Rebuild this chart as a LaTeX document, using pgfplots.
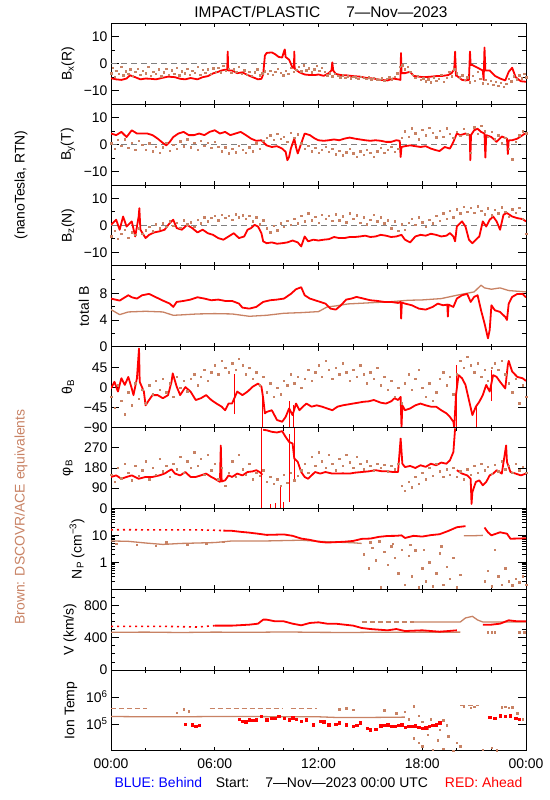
\documentclass[border=0pt]{standalone}
\usepackage{fontspec}
\setmainfont{Liberation Sans}
\usepackage{pgfplots}
\pgfplotsset{compat=1.18}
\definecolor{brn}{RGB}{200,130,100}
\definecolor{zgray}{RGB}{128,128,128}
\pgfplotsset{
  panel/.style={scale only axis, width=415bp, height=80.85bp, anchor=south west,
    xmin=0, xmax=24, xtick={0,6,12,18,24}, minor xtick={0,2,...,24}, xticklabels={},
    tick align=inside, tick pos=both, axis line style={line width=0.9bp},
    every tick/.style={black, line width=0.9bp},
    major tick length=8bp, minor tick length=4bp,
    xtick style={/pgfplots/major tick length=4bp, /pgfplots/minor tick length=3bp},
    tick label style={font=\fontsize{14}{14}\selectfont},
    xticklabel style={yshift=-4bp},
    every axis y label/.style={at={(axis description cs:0,0.5)}, rotate=90, anchor=center,
      font=\fontsize{14}{14}\selectfont},
    unbounded coords=jump, clip=true},
  rl/.style={red, line width=1.8bp, line join=round, no markers},
  rd/.style={red, line width=1.6bp, dash pattern=on 2bp off 4bp, no markers},
  rs/.style={red, line width=1bp, no markers},
  bd/.style={brn, only marks, mark=square*, mark size=0.7bp, mark options={draw=none, fill=brn}},
  bl/.style={brn, line width=1.3bp, line join=round, no markers},
  bdash/.style={brn, line width=1.3bp, dash pattern=on 5bp off 3bp, no markers},
  zl/.style={zgray, line width=0.9bp, dash pattern=on 6bp off 4bp, no markers},
}
\begin{document}
\begin{tikzpicture}
\path[use as bounding box] (0bp,0bp) rectangle (550bp,800bp);
\node[font=\fontsize{15.5}{15.5}\selectfont] at (321bp,788bp) {IMPACT/PLASTIC\hspace{26bp}7—Nov—2023};
\node[rotate=90, font=\fontsize{14}{14}\selectfont] at (21bp,615bp) {(nanoTesla, RTN)};
\node[rotate=90, font=\fontsize{14}{14}\selectfont, text=brn] at (21bp,283bp) {Brown: DSCOVR/ACE equivalents};
\node[anchor=west, text=blue, font=\fontsize{14}{14}\selectfont] at (111bp,17bp) {BLUE: Behind};
\node[font=\fontsize{14}{14}\selectfont] at (322bp,17bp) {Start:\hspace{16bp}7—Nov—2023 00:00 UTC};
\node[anchor=east, text=red, font=\fontsize{14}{14}\selectfont] at (526bp,17bp) {RED: Ahead};

% ---------- Bx ----------
\begin{axis}[panel, at={(111bp,695.85bp)}, ymin=-15, ymax=15, ytick={-10,0,10}, minor ytick={-5,5},
  yticklabels={−10,0,10}, ylabel={B\textsubscript{x}(R)}, ylabel style={yshift=43bp}]
\addplot[zl] coordinates {(0,0)(24,0)};
\addplot[bd] table {
0.0 -3.5
0.1 -1.5
0.2 -4.8
0.3 -2.5
0.45 -3.8
0.6 -1.2
0.7 -4.2
0.85 -2.8
1.0 -3.6
1.1 -2.0
1.25 -4.5
1.4 -3.0
1.55 -1.8
1.7 -4.0
1.85 -2.6
2.0 -3.5
2.15 -1.0
2.3 -4.4
2.45 -2.9
2.6 -3.8
2.75 -2.0
2.9 -4.6
3.05 -3.2
3.2 -1.8
3.35 -4.0
3.5 -2.4
3.65 -3.6
3.8 -1.5
3.95 -4.3
4.1 -2.8
4.25 -3.5
4.4 -1.9
4.55 -4.1
4.7 -2.6
4.85 -3.3
5.0 -1.2
5.15 -4.0
5.3 -2.2
5.45 -3.4
5.6 -2.0
5.75 -3.8
5.9 -1.6
6.05 -2.9
6.2 -1.4
6.35 -3.2
6.5 -0.8
6.65 -2.6
6.8 -1.8
6.95 -3.4
7.1 -2.0
7.25 -3.0
7.4 -1.2
7.55 -3.6
7.7 -2.4
7.85 -4.0
8.0 -3.0
8.15 -4.5
8.3 -3.2
8.45 -2.0
8.6 -4.2
8.75 -3.5
8.9 -2.8
9.05 -3.8
9.2 -2.5
9.35 -4.0
9.5 -3.0
9.65 -1.8
9.8 -3.4
9.95 -4.2
10.1 -2.6
10.25 -3.6
10.4 -1.5
10.55 -3.0
10.7 -2.2
10.85 -1.0
11.0 -2.8
11.15 -0.5
11.3 -2.4
11.45 -1.6
11.6 -3.2
11.75 -2.0
11.9 -0.8
12.05 -2.6
12.2 -1.5
12.35 -3.0
12.5 -4.2
12.65 -3.5
12.8 -4.6
12.95 -3.8
13.1 -4.4
13.25 -5.0
13.4 -4.2
13.55 -5.2
13.7 -4.6
13.85 -5.4
14.0 -4.8
14.15 -5.0
14.3 -5.5
14.45 -4.8
14.6 -5.2
14.75 -5.6
14.9 -5.0
15.05 -5.8
15.2 -5.2
15.35 -5.8
15.5 -6.0
15.65 -5.4
15.8 -6.2
15.95 -5.6
16.1 -5.0
16.25 -5.8
16.4 -4.8
16.55 -3.5
16.7 -1.0
16.85 -0.5
17.0 -2.0
17.15 -1.2
17.3 -3.0
17.45 -4.0
17.6 -5.2
17.75 -4.5
17.9 -6.0
18.05 -5.4
18.2 -6.5
18.35 -5.8
18.5 -6.8
18.65 -5.0
18.8 -6.2
18.95 -5.5
19.1 -4.0
19.25 -6.6
19.4 -5.2
19.55 -3.0
19.7 -4.6
19.85 -2.0
20.0 -3.5
20.15 -5.0
20.3 -4.2
20.45 -6.0
20.6 -5.0
20.75 -6.8
20.9 -4.5
21.05 -6.2
21.2 -3.0
21.35 -5.5
21.5 -7.2
21.65 -6.0
21.8 -7.5
21.95 -6.4
22.1 -7.8
22.25 -6.6
22.4 -8.2
22.55 -7.0
22.7 -8.6
22.85 -7.4
23.0 -5.5
23.15 -6.5
23.3 -4.6
23.45 -5.8
23.6 -4.2
23.75 -5.4
23.9 -3.8
24.0 -5.0
};
\addplot[rl] table {
0 -5.4
0.3 -5.8
0.6 -6
0.9 -5.5
1.1 -4.3
1.4 -5
1.7 -5.8
2.0 -5.5
2.3 -5.6
2.6 -5.8
3.0 -5.2
3.3 -4.8
3.7 -5
4.0 -5.6
4.3 -5.8
4.6 -5.3
5.0 -5.8
5.3 -5
5.6 -4.6
5.9 -3.6
6.2 -3
6.4 -2.5
6.6 -2.2
6.72 -2.4
6.75 4.5
6.78 -2.5
7.0 -2.5
7.3 -3.5
7.6 -3.2
7.9 -4.2
8.2 -5
8.5 -5.8
8.7 -5.6
8.8 -4
8.9 3
9.0 4
9.3 4.2
9.5 3.5
9.7 2.5
9.9 2.3
10.0 4.5
10.05 5.3
10.1 2.5
10.3 1.5
10.5 -1.5
10.58 -1.5
10.6 4.5
10.62 -1.8
10.7 -2.3
10.9 -3.2
11.2 -4
11.5 -4.2
11.8 -4.2
12.0 -4
12.3 -4.5
12.6 -3.5
12.75 -2.5
12.8 0.5
12.85 -2.5
13.0 -3.8
13.3 -4.2
13.6 -4.3
14.0 -4.6
14.4 -4.8
14.8 -5.3
15.2 -5.5
15.6 -6
16.0 -6.2
16.3 -5.5
16.6 -5.8
16.74 -6
16.77 4
16.8 -3.5
17.0 -3.5
17.3 -3
17.5 -4.5
17.8 -4.8
18.1 -5
18.5 -4.8
18.8 -4.6
19.2 -4.5
19.5 -4.2
19.7 -3.5
19.85 -2
19.9 4.5
19.95 -4.5
20.0 -4.5
20.3 -6
20.5 -6.2
20.7 -6
20.76 4.5
20.8 -0.5
20.9 -0.5
21.2 -1.5
21.5 -2.5
21.55 -6
21.6 6
21.65 -2.5
21.9 -2.5
22.2 -4.5
22.5 -5.5
22.8 -6.2
23.0 -3
23.2 -1.5
23.4 -5
23.7 -6.5
24.0 -6.7
};
\end{axis}

% ---------- By ----------
\begin{axis}[panel, at={(111bp,615.0bp)}, ymin=-15, ymax=15, ytick={-10,0,10}, minor ytick={-5,5},
  yticklabels={−10,0,10}, ylabel={B\textsubscript{y}(T)}, ylabel style={yshift=43bp}]
\addplot[zl] coordinates {(0,0)(24,0)};
\addplot[bd] table {
0.0 0.5
0.2 -1.5
0.4 1.8
0.6 -0.5
0.8 2.0
1.0 -1.2
1.2 0.8
1.4 -2.0
1.6 1.5
1.8 0.0
2.0 -1.8
2.2 0.5
2.4 -2.5
2.6 -0.8
2.8 -3.0
3.0 -1.0
3.2 0.8
3.4 -2.2
3.6 0.0
3.8 -1.5
4.0 1.2
4.2 -0.6
4.4 2.0
4.6 -1.0
4.8 0.6
5.0 -2.0
5.2 1.5
5.4 -0.5
5.6 0.8
5.8 -1.2
6.0 1.0
6.2 -0.8
6.4 -2.5
6.6 -1.0
6.8 -3.2
7.0 -1.5
7.2 -2.8
7.4 -0.5
7.6 -2.0
7.8 -3.0
8.0 -1.0
8.2 -2.4
8.4 0.5
8.6 -1.5
8.8 1.5
9.0 2.5
9.2 3.5
9.4 1.8
9.6 4.0
9.8 2.2
10.0 3.0
10.2 1.0
10.4 4.5
10.6 2.5
10.8 3.8
11.0 0.5
11.2 -1.5
11.4 -0.5
11.6 -2.5
11.8 -1.2
12.0 -3.0
12.2 -1.8
12.4 -0.8
12.6 -2.6
12.8 -1.5
13.0 -3.5
13.2 -2.2
13.4 -4.0
13.6 -2.8
13.8 -1.5
14.0 -3.2
14.2 -4.5
14.4 -2.5
14.6 -3.8
14.8 -1.8
15.0 -3.0
15.2 -4.6
15.4 -2.4
15.6 -1.2
15.8 -3.0
16.0 -2.0
16.2 -0.8
16.4 -2.6
16.6 -1.5
16.8 2.5
17.0 5.0
17.2 3.0
17.4 6.0
17.6 4.2
17.8 2.0
18.0 5.5
18.2 3.5
18.4 6.2
18.6 4.5
18.8 2.8
19.0 5.2
19.2 3.0
19.4 6.0
19.6 4.0
19.8 2.5
20.0 4.8
20.2 3.2
20.4 5.8
20.6 3.8
20.8 -3.0
21.0 6.5
21.2 4.0
21.4 7.0
21.6 5.0
21.8 3.0
22.0 4.8
22.2 2.0
22.4 3.5
22.6 0.5
22.8 2.5
23.0 -1.5
23.2 -5.5
23.4 1.0
23.6 3.5
23.8 5.0
24.0 4.2
};
\addplot[rl] table {
0 4.1
0.3 3.5
0.6 4.7
0.9 2.8
1.2 5.3
1.5 4.1
1.8 4.1
2.1 4.1
2.4 3.5
2.7 2.2
3.0 0.6
3.2 -0.3
3.4 1.0
3.6 2.8
3.9 4.1
4.2 4.7
4.5 3.5
4.8 3.5
5.1 4.1
5.4 3.5
5.7 4.7
6.0 5.3
6.3 4.1
6.6 4.7
6.9 3.5
7.2 4.1
7.5 4.7
7.8 3.5
8.1 2.2
8.4 1.4
8.7 1.6
9.0 -0.3
9.3 -0.9
9.6 -0.6
9.9 -1.5
10.1 -2.7
10.2 -5.8
10.3 -4.6
10.4 -1.5
10.6 2.2
10.7 -1.0
10.8 -3.3
11.0 0.4
11.2 4.1
11.5 3.5
11.8 2.2
12.0 1.6
12.3 1.4
12.6 1.6
12.9 1.9
13.2 1.6
13.5 2.2
13.8 2.6
14.1 2.2
14.4 1.9
14.7 1.6
15.0 1.4
15.3 1.6
15.6 1.4
15.9 1.0
16.2 1.0
16.5 1.6
16.7 1.4
16.75 -4.6
16.8 -0.9
17.0 -0.6
17.3 -0.3
17.6 -0.6
17.9 -0.9
18.2 -0.6
18.5 -1.5
18.8 -2.1
19.0 -2.4
19.3 -0.9
19.6 -1.5
19.8 1.0
20.0 4.1
20.2 3.5
20.5 4.1
20.75 3.5
20.78 -5.8
20.82 3.5
21.0 5.3
21.2 5.9
21.4 4.7
21.6 4.1
21.65 -4.8
21.7 3.5
22.0 2.8
22.3 1.0
22.6 3.0
22.9 2.2
22.95 -3.5
23.0 1.6
23.2 1.6
23.5 2.2
23.8 3.5
24.0 4.3
};
\end{axis}

% ---------- Bz ----------
\begin{axis}[panel, at={(111bp,534.15bp)}, ymin=-15, ymax=15, ytick={-10,0,10}, minor ytick={-5,5},
  yticklabels={−10,0,10}, ylabel={B\textsubscript{z}(N)}, ylabel style={yshift=43bp}]
\addplot[zl] coordinates {(0,0)(24,0)};
\addplot[bd] table {
0.0 -4.0
0.2 -2.0
0.4 -5.0
0.6 -3.0
0.8 -1.5
1.0 -4.5
1.2 -2.5
1.4 -3.5
1.6 -1.0
1.8 -3.0
2.0 -1.8
2.2 -0.5
2.4 -2.2
2.6 0.5
2.8 -1.0
3.0 0.8
3.2 -0.5
3.4 1.5
3.6 0.0
3.8 1.0
4.0 -0.8
4.2 2.0
4.4 0.5
4.6 1.2
4.8 -0.5
5.0 2.2
5.2 0.8
5.4 3.0
5.6 1.5
5.8 2.8
6.0 3.5
6.2 2.0
6.4 4.0
6.6 2.8
6.8 3.6
7.0 2.2
7.2 4.2
7.4 3.0
7.6 3.8
7.8 2.5
8.0 3.5
8.2 1.5
8.4 3.0
8.6 0.5
8.8 2.0
9.0 -1.0
9.2 -2.5
9.4 0.0
9.6 -1.8
9.8 0.8
10.0 -0.5
10.2 1.8
10.4 0.2
10.6 2.5
10.8 0.8
11.0 3.5
11.2 1.5
11.4 4.5
11.6 2.0
11.8 3.2
12.0 1.0
12.2 4.0
12.4 2.5
12.6 3.6
12.8 1.8
13.0 4.2
13.2 2.0
13.4 3.4
13.6 1.2
13.8 4.5
14.0 2.4
14.2 3.8
14.4 1.0
14.6 3.0
14.8 0.5
15.0 2.2
15.2 4.0
15.4 1.5
15.6 3.0
15.8 0.8
16.0 2.0
16.2 -1.0
16.4 1.5
16.6 -2.0
16.8 0.5
17.0 -1.5
17.2 1.0
17.4 2.5
17.6 0.2
17.8 3.0
18.0 1.2
18.2 -0.5
18.4 2.2
18.6 0.8
18.8 3.5
19.0 1.8
19.2 4.5
19.4 2.5
19.6 5.5
19.8 3.0
20.0 6.0
20.2 4.5
20.4 7.0
20.6 5.2
20.8 6.5
21.0 4.8
21.2 7.2
21.4 5.5
21.6 4.2
21.8 6.4
22.0 3.8
22.2 5.8
22.4 4.5
22.6 6.8
22.8 5.0
23.0 3.2
23.2 6.0
23.4 4.8
23.6 6.5
23.8 2.5
24.0 -3.0
};
\addplot[rl] table {
0 0.2
0.3 2.1
0.5 -1.6
0.7 3.3
0.9 -0.4
1.2 1.5
1.4 -4.1
1.6 3.3
1.64 6.4
1.7 -1.6
2.0 -4.7
2.2 -3.5
2.5 -2.6
2.8 -2.2
3.1 -1.6
3.4 0.9
3.6 2.1
3.8 -1.0
4.1 -1.6
4.4 0.2
4.7 -1.0
5.0 -2.6
5.3 -1.6
5.6 -2.9
5.9 -3.5
6.2 -4.7
6.5 -5.3
6.8 -4.1
7.1 -2.9
7.4 -4.7
7.7 -4.1
7.9 -1.6
8.1 -1.0
8.3 0.2
8.5 -0.4
8.7 -2.9
8.8 -5.9
9.0 -6.6
9.3 -6.3
9.6 -6.8
9.9 -6.6
10.2 -6.3
10.5 -5.6
10.8 -6.3
11.0 -7.8
11.2 -4.1
11.4 -5.9
11.7 -5.3
12.0 -5.6
12.3 -5.3
12.6 -5.1
12.9 -4.3
13.2 -4.7
13.5 -4.7
13.8 -4.3
14.1 -4.3
14.4 -4.1
14.7 -3.8
15.0 -4.3
15.3 -4.1
15.6 -3.5
15.9 -3.8
16.2 -4.3
16.5 -4.1
16.8 -3.5
17.0 -5.3
17.3 -6.3
17.6 -4.1
17.9 -3.5
18.2 -3.8
18.5 -3.1
18.8 -3.5
19.1 -4.1
19.4 -3.8
19.6 -2.85
19.8 -4.1
19.9 -5.9
20.0 -0.4
20.3 1.5
20.5 -0.4
20.7 -5.3
20.9 -6.6
21.1 -5.3
21.3 -4.1
21.5 1.5
21.7 -0.4
21.9 2.1
22.1 3.3
22.3 1.5
22.5 -1.6
22.7 4.0
22.9 4.6
23.2 3.3
23.5 2.7
23.8 2.35
24.0 1.5
};
\end{axis}

% ---------- total B ----------
\begin{axis}[panel, at={(111bp,453.3bp)}, ymin=0, ymax=12.1, ytick={0,4,8}, minor ytick={2,6,10},
  yticklabels={0,4,8}, ylabel={total B}, ylabel style={yshift=27bp}]
\addplot[bl] table {
0 5.55
0.5 4.8
1 5.2
2 5.3
3 5.2
3.6 4.7
4 4.75
5 4.9
6 4.95
7 4.9
8 4.55
9 4.7
10 5.0
11 5.1
12 5.25
12.5 5.95
13 6.1
13.7 6.4
15.2 6.6
16 6.7
17.2 6.95
18 7.0
19.1 7.2
20 7.7
21 8.2
21.4 9.2
21.6 8.8
22 8.6
22.5 8.8
23 8.4
23.5 8.3
24 8.2
};
\addplot[rl] table {
0 7.2
0.5 6.9
1.0 7.7
1.2 7.4
1.5 7.2
1.8 7.7
2.2 7.9
2.6 7.4
3.0 6.9
3.4 6.45
3.6 5.95
3.8 6.7
4.2 6.85
4.6 7.05
5.0 7.4
5.4 7.2
5.8 6.95
6.2 7.05
6.6 6.85
7.0 6.85
7.4 6.45
7.6 5.85
8.0 5.7
8.4 5.95
8.8 6.7
9.2 6.95
9.6 7.05
10.0 7.2
10.4 7.9
10.7 8.6
11.0 8.9
11.2 7.7
11.5 7.2
11.8 6.95
12.1 6.7
12.4 6.45
12.7 5.7
13.0 5.55
13.3 6.2
13.6 7.05
13.9 7.2
14.2 7.45
14.6 7.2
15.0 6.95
15.4 6.85
15.8 6.7
16.2 6.7
16.6 6.55
16.75 6.7
16.78 4.2
16.82 6.6
17.0 6.45
17.4 6.2
17.8 5.7
18.2 5.55
18.6 5.95
18.9 6.45
19.2 6.2
19.45 6.3
19.48 4.5
19.52 6.3
19.8 5.95
20.0 7.2
20.3 7.7
20.6 7.9
20.8 6.7
21.0 7.45
21.2 7.7
21.4 5.45
21.6 3.5
21.8 1.25
21.9 2.5
22.0 6.2
22.2 5.45
22.5 5.2
22.8 4.45
22.9 4.0
23.0 6.45
23.2 7.45
23.5 7.9
23.8 7.9
24.0 7.4
};
\end{axis}

% ---------- theta ----------
\begin{axis}[panel, at={(111bp,372.45bp)}, ymin=-90, ymax=92, ytick={-90,-45,0,45}, minor ytick={},
  yticklabels={−90,−45,0,45}, ylabel={θ\textsubscript{B}}, ylabel style={yshift=43bp}]
\addplot[bd] table {
0.0 -20
0.2 -45
0.4 5
0.6 -30
0.8 -60
1.0 -10
1.2 -40
1.4 10
1.6 -25
1.8 -5
2.0 -35
2.2 5
2.4 -15
2.6 15
2.8 -5
3.0 20
3.2 -10
3.4 10
3.6 -20
3.8 25
4.0 0
4.2 15
4.4 -8
4.6 20
4.8 30
5.0 5
5.2 25
5.4 40
5.6 15
5.8 35
6.0 50
6.2 30
6.4 60
6.6 45
6.8 35
7.0 55
7.2 40
7.4 65
7.6 50
7.8 30
8.0 45
8.2 20
8.4 35
8.6 5
8.8 25
9.0 -10
9.2 10
9.4 -20
9.6 0
9.8 -15
10.0 15
10.2 5
10.4 30
10.6 10
10.8 25
11.0 0
11.2 20
11.4 40
11.6 15
11.8 35
12.0 50
12.2 25
12.4 60
12.6 40
12.8 20
13.0 45
13.2 30
13.4 55
13.6 35
13.8 15
14.0 40
14.2 25
14.4 50
14.6 30
14.8 10
15.0 35
15.2 20
15.4 45
15.6 5
15.8 25
16.0 -5
16.2 15
16.4 -20
16.6 0
16.8 -35
17.0 10
17.2 30
17.4 -5
17.6 20
17.8 40
18.0 0
18.2 -20
18.4 10
18.6 -30
18.8 -10
19.0 20
19.2 35
19.4 5
19.6 25
19.8 -15
20.0 30
20.2 60
20.4 45
20.6 70
20.8 50
21.0 35
21.2 55
21.4 25
21.6 40
21.8 15
22.0 45
22.2 55
22.4 40
22.6 60
22.8 30
23.0 10
23.2 -10
23.4 20
23.6 -35
23.8 5
24.0 -20
};
\addplot[rl] table {
0 -2
0.2 13
0.4 -9
0.6 21
0.8 6
1.0 24
1.2 -2
1.3 -17
1.5 21
1.62 88
1.66 13
1.9 -9
2.0 -40
2.2 -28
2.4 -17
2.7 -17
3.0 -24
3.3 -17
3.5 13
3.57 32
3.8 2
4.0 -17
4.3 1
4.6 -9
4.9 -28
5.2 -24
5.5 -17
5.8 -28
6.1 -36
6.4 -43
6.6 -51
6.8 -36
7.0 -36
7.3 -9
7.6 -17
7.9 -9
8.2 2
8.5 9
8.7 2
8.8 -24
8.9 -58
9.0 -55
9.3 -51
9.6 -73
9.9 -77
10.1 -66
10.3 -47
10.5 -62
10.7 -36
10.9 -51
11.1 -43
11.3 -36
11.6 -43
11.9 -40
12.2 -43
12.5 -47
12.8 -51
13.1 -43
13.4 -40
13.7 -38
14.0 -36
14.3 -34
14.6 -32
14.9 -31
15.2 -28
15.6 -34
15.9 -36
16.2 -31
16.4 -24
16.6 -28
16.75 -21
16.8 -90
16.85 -40
17.0 -51
17.3 -47
17.6 -40
17.9 -36
18.2 -40
18.5 -43
18.8 -43
19.1 -51
19.4 -58
19.6 -66
19.8 -77
19.85 -90
19.95 -17
20.1 28
20.3 21
20.5 6
20.7 -28
20.9 -62
21.1 -43
21.3 -32
21.5 -17
21.7 6
21.9 -9
22.1 28
22.3 24
22.5 13
22.8 -2
22.95 51
23.0 60
23.2 36
23.5 24
23.8 21
24.0 15
};
\addplot[rs] table {
7.15 -60
7.15 30
nan nan
8.75 -90
8.75 -20
nan nan
10.35 -90
10.35 -30
nan nan
10.55 -90
10.55 -40
nan nan
20.0 -90
20.0 50
nan nan
21.15 -90
21.15 -40
nan nan
22.0 -30
22.0 40
};
\end{axis}

% ---------- phi ----------
\begin{axis}[panel, at={(111bp,291.6bp)}, ymin=0, ymax=360, ytick={0,90,180,270}, minor ytick={},
  yticklabels={0,90,180,270}, ylabel={φ\textsubscript{B}}, ylabel style={yshift=43bp}]
\addplot[bd] table {
0.0 150
0.2 120
0.4 180
0.6 135
0.8 200
1.0 160
1.2 125
1.4 190
1.6 145
1.8 170
2.0 210
2.2 130
2.4 180
2.6 150
2.8 220
3.0 165
3.2 190
3.4 140
3.6 200
3.8 175
4.0 230
4.2 160
4.4 210
4.6 180
4.8 250
5.0 190
5.2 220
5.4 150
5.6 240
5.8 170
6.0 200
6.2 130
6.4 180
6.6 100
6.8 160
7.0 210
7.2 140
7.4 240
7.6 175
7.8 150
8.0 200
8.2 130
8.4 160
8.6 145
8.8 170
9.0 120
9.2 140
9.4 110
9.6 130
9.8 100
10.0 150
10.2 115
10.4 160
10.6 125
10.8 145
11.0 170
11.2 200
11.4 160
11.6 230
11.8 190
12.0 250
12.2 210
12.4 180
12.6 240
12.8 200
13.0 170
13.2 220
13.4 190
13.6 240
13.8 205
14.0 180
14.2 230
14.4 200
14.6 175
14.8 210
15.0 190
15.2 170
15.4 200
15.6 180
15.8 195
16.0 165
16.2 190
16.4 175
16.6 200
16.8 100
17.0 80
17.2 120
17.4 95
17.6 140
17.8 110
18.0 160
18.2 130
18.4 180
18.6 145
18.8 200
19.0 165
19.2 140
19.4 175
19.6 150
19.8 180
20.0 140
20.2 165
20.4 130
20.6 175
20.8 150
21.0 190
21.2 160
21.4 200
21.6 170
21.8 185
22.0 155
22.2 195
22.4 165
22.6 210
22.8 175
23.0 190
23.2 160
23.4 200
23.6 170
23.8 185
24.0 160
};
\addplot[rl] table {
0 140
0.3 147
0.6 132
0.9 140
1.2 147
1.6 132
2.0 140
2.4 140
2.8 147
3.1 155
3.3 165
3.5 174
3.7 155
4.0 147
4.3 162
4.6 140
4.9 140
5.2 147
5.5 155
5.8 140
6.0 132
6.3 118
6.35 280
6.4 120
6.6 125
6.8 147
7.0 140
7.3 155
7.6 147
7.9 162
8.2 165
8.4 170
8.6 162
8.75 150
nan nan
8.8 350
9.0 348
9.3 341
9.6 338
9.9 344
10.1 318
10.3 296
10.5 289
10.6 222
10.8 207
11.0 162
11.2 140
11.4 132
11.6 147
11.8 162
12.1 155
12.4 162
12.8 155
13.1 155
13.4 156
13.8 155
14.1 159
14.5 162
14.9 165
15.3 170
15.7 165
16.0 165
16.3 162
16.6 162
16.75 311
16.85 199
17.0 184
17.3 189
17.6 180
17.9 192
18.2 185
18.5 199
18.8 192
19.1 204
19.4 199
19.6 214
19.8 251
19.9 356
nan nan
20.0 170
20.3 155
20.6 147
20.8 132
20.85 20
20.9 73
21.1 118
21.3 125
21.5 103
21.7 118
21.9 147
22.1 155
22.3 170
22.6 155
22.85 280
22.9 207
23.1 162
23.4 155
23.7 147
24.0 155
};
\addplot[rs] table {
8.72 0
8.72 360
nan nan
9.8 0
9.8 100
nan nan
10.3 30
10.3 330
nan nan
10.6 130
10.6 360
nan nan
9.2 0
9.2 20
nan nan
9.5 0
9.5 25
nan nan
10.0 0
10.0 30
};
\end{axis}

% ---------- Np ----------
\begin{axis}[panel, at={(111bp,210.75bp)}, ymode=log, ymin=0.1, ymax=100, ytick={0.1,1,10,100},
  yticklabels={,1,10,}, minor ytick={0.2,0.3,0.4,0.5,0.6,0.7,0.8,0.9,2,3,4,5,6,7,8,9,20,30,40,50,60,70,80,90},
  ylabel={N\textsubscript{P} (cm\textsuperscript{−3})}, ylabel style={yshift=34bp}]
\addplot[bl] table {
0 6.2
1 6.0
2 5.2
3 4.6
4 5.0
5 5.2
6 5.4
7 6.2
8 6.2
9 6.2
10 6.4
11 6.6
12 6.0
13 5.6
14 5.3
14.5 5.0
};
\addplot[bl] table {
20.4 9.6
20.8 9.6
21.2 9.8
21.5 10
};
\addplot[bd] table {
0.3 5.0
1.5 4.6
2.6 4.2
3.2 5.6
4.4 4.4
5.5 4.8
6.5 5.8
14.6 2.0
14.9 0.6
15.1 3.5
15.3 1.2
15.6 0.12
15.8 2.5
16.0 0.8
16.2 4.0
16.4 1.5
16.6 0.4
16.8 3.0
17.0 0.15
17.2 1.8
17.4 0.3
17.6 2.8
17.8 0.12
18.0 0.6
18.2 0.2
18.4 1.0
18.6 0.13
18.8 0.4
19.0 2.2
19.2 0.15
19.4 0.7
19.6 0.25
19.8 1.5
20.0 0.12
20.2 0.35
21.6 0.2
21.8 0.5
22.0 0.13
22.2 3.0
22.4 0.3
22.6 0.15
22.8 0.6
23.0 0.2
23.2 0.14
23.4 0.25
23.6 0.18
23.8 0.3
24.0 0.15
15.0 5.5
15.5 6.0
16.3 5.0
17.3 4.5
18.1 3.0
19.1 4.0
};
\addplot[rd] table {
0 16
1 16.2
2 16
3 16
4 16
5 16
6 15.5
6.5 15
};
\addplot[rl] table {
6.5 15
7 14.7
7.5 13.5
8 12.6
8.5 11.5
9 10.4
9.5 10.6
10 10.8
10.5 9.6
11 7.6
11.5 6.8
12 5.8
12.5 5.4
13 5.6
13.5 5.8
14 6.2
14.5 7.4
15 7.6
15.5 8.8
16 9.5
16.5 9.6
16.8 10
17 8.0
17.5 9.6
18 9.0
18.5 10.2
19 11
19.5 14.5
20 20
20.5 22
nan nan
21.6 19.5
21.8 13
22 10
22.5 13
22.9 11.5
23.1 7.5
23.5 7.6
24 7.8
};
\end{axis}

% ---------- V ----------
\begin{axis}[panel, at={(111bp,129.9bp)}, ymin=0, ymax=1000, ytick={0,400,800},
  minor ytick={100,200,300,500,600,700,900}, yticklabels={0,400,800}, ylabel={V (km/s)},
  ylabel style={yshift=41bp}]
\addplot[bl] table {
0 467
2 470
4 465
6 470
8 467
10 472
12 467
14 465
15 468
17 467
18 470
19 467
20.2 470
};
\addplot[bdash] table {
14.5 595
17.5 595
};
\addplot[bl] table {
17.5 595
20.2 595
20.5 645
20.9 665
21.2 620
21.5 595
24 595
};
\addplot[bd] table {
21.8 467
22.0 470
22.2 467
23.6 467
23.9 470
};
\addplot[rd] table {
0 541
3 541
5 533
6 550
};
\addplot[rl] table {
6 550
7 550
8 562
8.5 574
8.8 624
9 624
9.5 603
10 603
10.5 574
11 554
11.5 583
12 591
12.5 574
13 574
13.5 562
14 550
14.5 521
15 508
15.5 500
16 492
16.5 508
17 483
18 492
19 475
19.5 483
20 492
nan nan
21.5 562
22 562
22.5 574
23 616
23.5 603
24 603
};
\end{axis}

% ---------- Ion Temp ----------
\begin{axis}[panel, at={(111bp,49.05bp)}, ymode=log, ymin=1e4, ymax=1e7, ytick={1e4,1e5,1e6,1e7},
  yticklabels={,10\textsuperscript{5},10\textsuperscript{6},}, minor ytick={1e4},
  ylabel={Ion Temp}, ylabel style={yshift=40bp},
  xticklabels={00:00,06:00,12:00,18:00,00:00}]
\addplot[bl] table {
0 1.9e5
2 1.85e5
4 1.85e5
6 1.9e5
8 1.9e5
10 1.85e5
12 1.85e5
13 1.75e5
15 1.75e5
17 1.8e5
};
\addplot[bdash] table {
0 3.8e5
2.1 3.8e5
};
\addplot[bdash] table {
5.7 3.8e5
9.9 3.8e5
};
\addplot[bdash] table {
10.4 3.8e5
11.9 3.8e5
};
\addplot[bdash] table {
20.2 4.9e5
21.3 4.9e5
};
\addplot[bd] table {
3.8 2.6e5
4.2 3.6e5
4.5 3.0e5
13.2 3.5e5
13.6 3.8e5
14.0 3.4e5
15.8 3.2e5
16.5 2.5e5
17.0 2.8e5
17.2 1.5e5
17.5 4.5e5
17.8 2.0e5
18.0 1.2e5
18.3 7e4
18.5 1.5e5
18.8 1.0e5
19.0 6e4
19.2 1.4e5
19.4 9e4
17.5 3e4
17.8 2e4
18.0 1.5e4
18.3 4e4
18.6 1.1e4
18.9 2.5e4
19.2 1.2e4
19.5 3.5e4
19.8 1.0e4
20.0 2e4
20.2 1.5e4
21.5 1.1e4
22.0 1.3e4
22.3 1.05e4
20.4 4.3e5
20.8 4.0e5
21.0 4.4e5
22.6 4.2e5
22.8 4.4e5
23.0 4.0e5
23.2 4.2e5
23.5 2.5e5
23.8 1.5e5
};
\addplot[red, only marks, mark=square*, mark size=1.2bp, mark options={draw=none, fill=red}] table {
4.3 1.0e5
4.7 9.4e4
4.9 8.1e4
5.1 9.1e4
7.4 1.53e5
7.6 1.26e5
7.8 1.2e5
8.0 1.45e5
8.2 1.35e5
8.4 1.45e5
8.7 1.9e5
9.0 1.45e5
9.3 1.66e5
9.5 1.6e5
9.7 1.9e5
10.0 1.66e5
10.3 1.45e5
10.5 1.7e5
10.7 1.53e5
11.0 1.26e5
11.3 1.45e5
11.7 9.4e4
12.1 1.26e5
12.3 1.2e5
12.6 9.4e4
13.0 1.0e5
13.2 1.1e5
13.6 9.4e4
14.0 8.1e4
14.2 9e4
14.4 1.1e5
14.8 7.1e4
15.0 6.2e4
15.3 6.5e4
15.6 8.7e4
15.8 9e4
16.0 9.4e4
16.2 8.5e4
16.4 8.1e4
16.6 9.2e4
16.8 9.4e4
17.0 7.8e4
17.2 8.1e4
17.4 8.5e4
17.6 8.7e4
17.8 7.6e4
18.0 7.1e4
18.2 7.4e4
18.4 8.1e4
18.6 8.8e4
18.8 9.4e4
19.0 1.1e5
21.9 1.8e5
22.2 1.6e5
22.5 2.0e5
22.8 1.9e5
23.1 2.0e5
23.4 1.6e5
23.6 1.5e5
};
\end{axis}
\end{tikzpicture}
\end{document}
